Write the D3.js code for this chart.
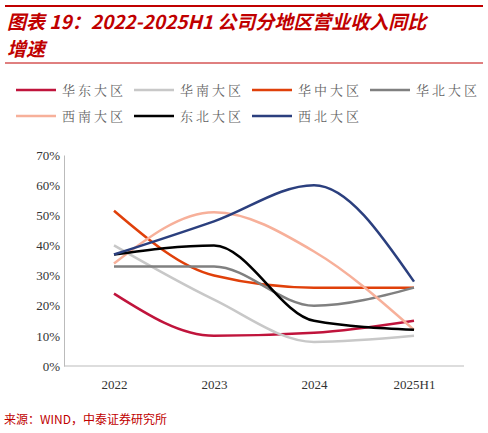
<!DOCTYPE html><html><head><meta charset="utf-8"><script src="https://cdn.jsdelivr.net/npm/d3@7"></script>
<style>body{margin:0;background:#fff}</style></head><body><svg id="c" width="488" height="433"></svg>
<script>
const categories=["2022","2023","2024","2025H1"];
const seriesNames=["华东大区","华南大区","华中大区","华北大区","西南大区","东北大区","西北大区"];
const seriesColors=["#C0143C","#C8C8C8","#E0400A","#808080","#F7B09A","#000000","#2B3F7E"];
const s0=[24,10,11,15];
const s1=[40,22,8,10];
const s2=[51.5,30,26,26];
const s3=[33,33,20,26];
const s4=[34,51,38,12];
const s5=[37,40,15,12];
const s6=[37,48,60,28];
const seriesValues=[s0,s1,s2,s3,s4,s5,s6];
const yTicks=[0,10,20,30,40,50,60,70];
const svg=d3.select("#c");
svg.append("line").attr("x1",5).attr("x2",483).attr("y1",6).attr("y2",6).attr("stroke","#C00000").attr("stroke-width",2);
svg.append("line").attr("x1",5).attr("x2",483).attr("y1",63).attr("y2",63).attr("stroke","#C00000").attr("stroke-width",1);
const tf="'Noto Sans CJK SC',sans-serif";
svg.append("text").attr("x",7).attr("y",29).attr("fill","#C00000").attr("font-family",tf).attr("font-weight","bold").attr("font-style","italic").attr("font-size",19).text("图表 19：2022-2025H1 公司分地区营业收入同比");
svg.append("text").attr("x",7).attr("y",56).attr("fill","#C00000").attr("font-family",tf).attr("font-weight","bold").attr("font-style","italic").attr("font-size",19).text("增速");
const lx=[16,134,252,370];
seriesNames.forEach((n,i)=>{const x=lx[i%4],y=i<4?90:116;
svg.append("line").attr("x1",x).attr("x2",x+40).attr("y1",y).attr("y2",y).attr("stroke",seriesColors[i]).attr("stroke-width",2.5);
svg.append("text").attr("x",x+46).attr("y",y+5).attr("font-family","'Noto Serif CJK SC','Noto Sans CJK SC',serif").attr("font-size",13).attr("fill","#666").attr("letter-spacing",3).text(n);});
const x=d3.scalePoint().domain(categories).range([114,414]);
const y=d3.scaleLinear().domain([0,70]).range([366,155]);
svg.append("g").attr("transform","translate(64,0)").call(d3.axisLeft(y).tickValues(yTicks).tickFormat(d=>d+"%").tickSize(0).tickPadding(4))
.call(g=>{g.select(".domain").attr("stroke","#bbb");g.selectAll("text").attr("font-family","'Liberation Serif',serif").attr("font-size",13).attr("fill","#333");});
svg.append("g").attr("transform","translate(0,366)").call(d3.axisBottom(x).tickSize(0).tickPadding(14))
.call(g=>{g.select(".domain").attr("stroke","#bbb").attr("d","M64,0H464");g.selectAll("text").attr("font-family","'Liberation Serif',serif").attr("font-size",13).attr("fill","#333");});
const line=d3.line().x((d,i)=>x(categories[i])).y(d=>y(d)).curve(d3.curveMonotoneX);
seriesValues.forEach((v,i)=>svg.append("path").attr("d",line(v)).attr("fill","none").attr("stroke",seriesColors[i]).attr("stroke-width",2.5));
svg.append("text").attr("x",4).attr("y",424).attr("font-family",tf).attr("font-size",12).attr("fill","#C00000").text("来源：WIND，中泰证券研究所");
</script></body></html>
